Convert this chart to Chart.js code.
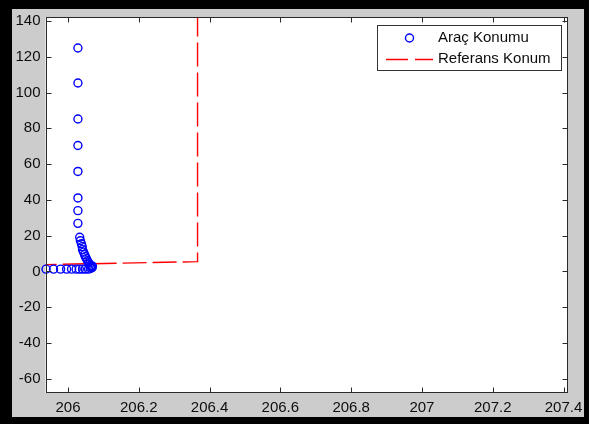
<!DOCTYPE html>
<html>
<head>
<meta charset="utf-8">
<script src="https://cdn.jsdelivr.net/npm/chart.js@4/dist/chart.umd.min.js"></script>
<style>
  html, body { margin: 0; padding: 0; background: #ffffff; }
  #wrap { width: 590px; height: 427px; }
</style>
</head>
<body>
<div id="wrap"><canvas id="c" width="590" height="427"></canvas></div>
<script>
// Vehicle position samples (x, y)
const vehicleX = [
  206.028, 206.028, 206.028, 206.028, 206.028, 206.028, 206.028, 206.028, 206.033,
  206.035, 206.038, 206.040, 206.041, 206.044, 206.047, 206.049, 206.052, 206.055,
  206.058, 206.061, 206.064, 206.066, 206.068, 206.064, 206.069,
  205.938, 205.959, 205.979, 205.996, 206.010, 206.023, 206.032, 206.041, 206.049, 206.058
];
const vehicleY = [
  124.9, 105.3, 85.2, 70.4, 55.9, 41.1, 34.0, 26.9, 19.1,
  17.2, 15.5, 13.9, 12.2, 10.8, 9.4, 8.3, 7.2, 6.0,
  4.9, 4.1, 3.2, 2.7, 2.1, 1.8, 3.0,
  1.3, 1.3, 1.3, 1.3, 1.3, 1.3, 1.3, 1.3, 1.3, 1.3
];

// Reference path (x, y)
const referenceX = [205.90, 206.366, 206.366];
const referenceY = [3.7, 5.5, 160];

// Axis ticks
const xTickValues = [206, 206.2, 206.4, 206.6, 206.8, 207, 207.2, 207.4];
const xTickLabels = ['206', '206.2', '206.4', '206.6', '206.8', '207', '207.2', '207.4'];
const yTickValues = [-60, -40, -20, 0, 20, 40, 60, 80, 100, 120, 140];
const yTickLabels = ['-60', '-40', '-20', '0', '20', '40', '60', '80', '100', '120', '140'];

const seriesNames = ['Araç Konumu', 'Referans Konum'];

const FONT = '"Liberation Sans", Arial, sans-serif';
const TEXT = '#0d0d0d';
const AXIS = '#2a2a2a';

const toPoints = (xs, ys) => xs.map((x, i) => ({ x: x, y: ys[i] }));

// Figure frame, axes box, inward tick marks and the legend
const matlabFrame = {
  id: 'matlabFrame',
  beforeDraw(chart) {
    const ctx = chart.ctx;
    const a = chart.chartArea;
    ctx.save();
    ctx.fillStyle = '#ffffff';
    ctx.fillRect(0, 0, chart.width, chart.height);
    ctx.fillStyle = '#000000';
    ctx.fillRect(0, 0, 589, 424);
    ctx.fillStyle = '#cccccc';
    ctx.fillRect(12, 9, 584 - 12, 417 - 9);
    ctx.fillStyle = '#ffffff';
    ctx.fillRect(a.left, a.top, a.right - a.left, a.bottom - a.top);
    ctx.restore();
  },
  afterDraw(chart) {
    const ctx = chart.ctx;
    const a = chart.chartArea;
    const xs = chart.scales.x, ys = chart.scales.y;
    const L = Math.round(a.left) + 0.5, R = Math.round(a.right) - 0.5;
    const T = Math.round(a.top) + 0.5, B = Math.round(a.bottom) - 0.5;
    ctx.save();
    ctx.strokeStyle = AXIS;
    ctx.lineWidth = 1;
    ctx.setLineDash([]);
    ctx.strokeRect(L, T, R - L, B - T);
    const tl = 5;
    ctx.beginPath();
    xTickValues.forEach(v => {
      const px = Math.round(xs.getPixelForValue(v)) + 0.5;
      ctx.moveTo(px, B); ctx.lineTo(px, B - tl);
      ctx.moveTo(px, T); ctx.lineTo(px, T + tl);
    });
    yTickValues.forEach(v => {
      const py = Math.round(ys.getPixelForValue(v)) + 0.5;
      ctx.moveTo(L, py); ctx.lineTo(L + tl, py);
      ctx.moveTo(R, py); ctx.lineTo(R - tl, py);
    });
    ctx.stroke();

    // legend
    const bx = 377.5, by = 25.5, bw = 184, bh = 45;
    ctx.fillStyle = '#ffffff';
    ctx.fillRect(bx, by, bw, bh);
    ctx.strokeStyle = '#333333';
    ctx.strokeRect(bx, by, bw, bh);

    const ds0 = chart.data.datasets[0], ds1 = chart.data.datasets[1];
    ctx.beginPath();
    ctx.arc(409.5, 38, 4, 0, Math.PI * 2);
    ctx.strokeStyle = ds0.borderColor;
    ctx.lineWidth = ds0.borderWidth;
    ctx.stroke();

    ctx.beginPath();
    ctx.setLineDash([22, 7]);
    ctx.strokeStyle = ds1.borderColor;
    ctx.lineWidth = ds1.borderWidth;
    ctx.moveTo(386, 59.5);
    ctx.lineTo(433, 59.5);
    ctx.stroke();
    ctx.setLineDash([]);

    ctx.fillStyle = TEXT;
    ctx.font = '15px ' + FONT;
    ctx.textAlign = 'left';
    ctx.textBaseline = 'middle';
    ctx.fillText(ds0.label, 438, 38);
    ctx.fillText(ds1.label, 438, 59);
    ctx.restore();
  }
};

new Chart(document.getElementById('c'), {
  type: 'scatter',
  data: {
    datasets: [
      {
        label: seriesNames[0],
        data: toPoints(vehicleX, vehicleY),
        showLine: false,
        pointStyle: 'circle',
        pointRadius: 4,
        pointHoverRadius: 4,
        pointBorderWidth: 1.4,
        borderWidth: 1.4,
        borderColor: '#0000ff',
        pointBorderColor: '#0000ff',
        backgroundColor: 'rgba(0,0,0,0)',
        pointBackgroundColor: 'rgba(0,0,0,0)',
        clip: 6,
        order: 1
      },
      {
        label: seriesNames[1],
        type: 'line',
        data: toPoints(referenceX, referenceY),
        showLine: true,
        borderColor: '#ff0000',
        borderWidth: 1.4,
        borderDash: [24, 6],
        pointRadius: 0,
        fill: false,
        tension: 0,
        order: 2
      }
    ]
  },
  options: {
    responsive: false,
    animation: false,
    devicePixelRatio: 1,
    events: [],
    layout: { padding: { top: 17, right: 22, left: 0, bottom: 0 } },
    plugins: {
      legend: { display: false },
      tooltip: { enabled: false }
    },
    scales: {
      x: {
        type: 'linear',
        min: 205.9364,
        max: 207.4127,
        grid: { display: false, drawTicks: false },
        border: { display: false },
        afterBuildTicks: (s) => { s.ticks = xTickValues.map(v => ({ value: v })); },
        afterFit: (s) => { s.height = 34; },
        ticks: {
          callback: (v, i) => xTickLabels[i],
          font: { family: FONT, size: 15 },
          color: TEXT,
          padding: 6,
          maxRotation: 0,
          autoSkip: false
        }
      },
      y: {
        type: 'linear',
        min: -67.9,
        max: 142.2,
        grid: { display: false, drawTicks: false },
        border: { display: false },
        afterBuildTicks: (s) => { s.ticks = yTickValues.map(v => ({ value: v })); },
        afterFit: (s) => { s.width = 45.5; },
        ticks: {
          callback: (v, i) => yTickLabels[i],
          font: { family: FONT, size: 15 },
          color: TEXT,
          padding: 5,
          autoSkip: false
        }
      }
    }
  },
  plugins: [matlabFrame]
});
</script>
</body>
</html>
